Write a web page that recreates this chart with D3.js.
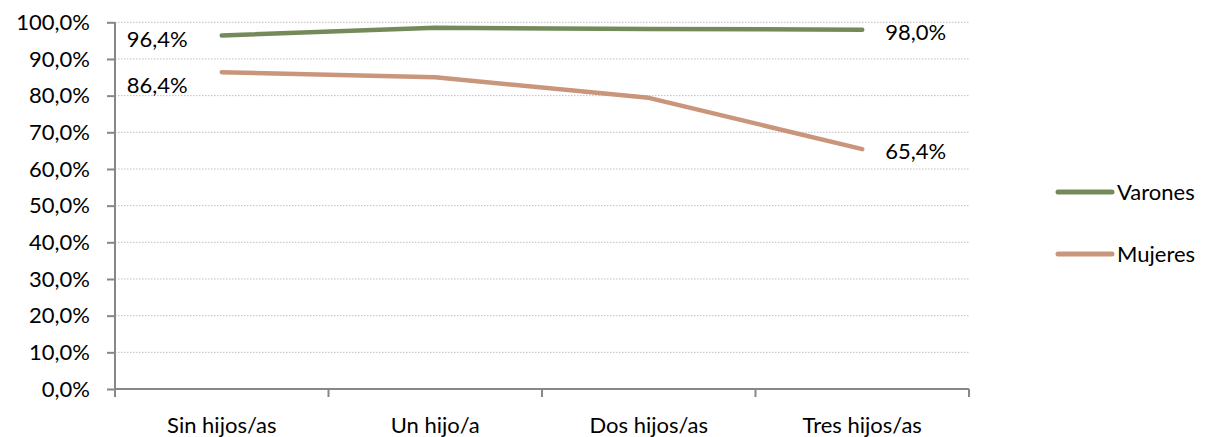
<!DOCTYPE html>
<html>
<head>
<meta charset="utf-8">
<script src="https://cdn.jsdelivr.net/npm/d3@7"></script>
<style>
  html, body { margin: 0; padding: 0; background: #fff; }
  svg { display: block; }
  text { font-family: Lato, "Open Sans", sans-serif; fill: #000; }
</style>
</head>
<body>
<svg id="chart" width="1208" height="437"></svg>
<script>
// Categories (number of children) and employment rate per series
const categories = ["Sin hijos/as", "Un hijo/a", "Dos hijos/as", "Tres hijos/as"];
const varones = [96.4, 98.5, 98.2, 98.0];
const mujeres = [86.4, 85.0, 79.4, 65.4];
const seriesNames = ["Varones", "Mujeres"];
const seriesColors = ["#738b5a", "#c9967b"];
const yTicks = [0, 10, 20, 30, 40, 50, 60, 70, 80, 90, 100];

const series = [
  { name: seriesNames[0], values: varones, color: seriesColors[0] },
  { name: seriesNames[1], values: mujeres, color: seriesColors[1] }
];

const FONT_SIZE = "22px";
const svg = d3.select("#chart");
const plot = { left: 115, right: 969, top: 22.3, bottom: 389 };
const fmt = v => d3.format(".1f")(v).replace(".", ",") + "%";

const x = d3.scaleBand().domain(categories).range([plot.left, plot.right]);
const y = d3.scaleLinear().domain([0, 100]).range([plot.bottom, plot.top]);
const cx = c => x(c) + x.bandwidth() / 2;

// Dotted horizontal gridlines
svg.append("g")
  .selectAll("line")
  .data(yTicks.filter(t => t > 0))
  .join("line")
  .attr("x1", plot.left).attr("x2", plot.right)
  .attr("y1", d => y(d)).attr("y2", d => y(d))
  .attr("stroke", "#bfbfbf")
  .attr("stroke-width", 1)
  .attr("stroke-dasharray", "1.5,1.5");

// Y axis
const yAxis = svg.append("g")
  .attr("transform", `translate(${plot.left},0)`)
  .call(d3.axisLeft(y).tickValues(yTicks).tickSize(8).tickPadding(17).tickFormat(fmt));
yAxis.selectAll("path, line").attr("stroke", "#878787").attr("stroke-width", 2);
yAxis.select(".domain").attr("d", `M0,${plot.top}V${plot.bottom}`);
yAxis.selectAll("text")
  .style("font-family", "Lato, 'Open Sans', sans-serif")
  .style("font-size", FONT_SIZE)
  .attr("fill", "#000");

// X axis with ticks at category boundaries
const xAxis = svg.append("g")
  .attr("transform", `translate(0,${plot.bottom})`);
xAxis.append("line")
  .attr("x1", plot.left).attr("x2", plot.right)
  .attr("stroke", "#878787").attr("stroke-width", 2);
const bounds = categories.map(c => x(c)).concat([x(categories[categories.length - 1]) + x.bandwidth()]);
xAxis.selectAll("line.tick")
  .data(bounds)
  .join("line")
  .attr("class", "tick")
  .attr("x1", d => d).attr("x2", d => d)
  .attr("y1", 0).attr("y2", 8)
  .attr("stroke", "#878787").attr("stroke-width", 2);
xAxis.selectAll("text")
  .data(categories)
  .join("text")
  .attr("x", d => cx(d))
  .attr("y", 36)
  .attr("dy", "0.35em")
  .attr("text-anchor", "middle")
  .style("font-size", FONT_SIZE)
  .text(d => d);

// Series lines
const line = d3.line()
  .x((d, i) => cx(categories[i]))
  .y(d => y(d));

svg.append("g")
  .selectAll("path")
  .data(series)
  .join("path")
  .attr("d", d => line(d.values))
  .attr("fill", "none")
  .attr("stroke", d => d.color)
  .attr("stroke-width", 4.5)
  .attr("stroke-linecap", "round")
  .attr("stroke-linejoin", "round");

// Value labels at the first and last points
const labels = [];
series.forEach((s, si) => {
  labels.push({ v: s.values[0], xPos: cx(categories[0]) - 95, yPos: si === 0 ? 39 : 85.5 });
  labels.push({ v: s.values[s.values.length - 1], xPos: cx(categories[categories.length - 1]) + 23, yPos: y(s.values[s.values.length - 1]) + 2.5 });
});
svg.append("g")
  .selectAll("text")
  .data(labels)
  .join("text")
  .attr("x", d => d.xPos)
  .attr("y", d => d.yPos)
  .attr("dy", "0.35em")
  .style("font-size", FONT_SIZE)
  .text(d => fmt(d.v));

// Legend
const legend = svg.append("g")
  .selectAll("g")
  .data(series)
  .join("g")
  .attr("transform", (d, i) => `translate(1058,${192 + i * 62})`);
legend.append("line")
  .attr("x1", 0).attr("x2", 54)
  .attr("stroke", d => d.color)
  .attr("stroke-width", 5)
  .attr("stroke-linecap", "round");
legend.append("text")
  .attr("x", 59)
  .attr("dy", "0.35em")
  .style("font-size", FONT_SIZE)
  .text(d => d.name);
</script>
</body>
</html>
